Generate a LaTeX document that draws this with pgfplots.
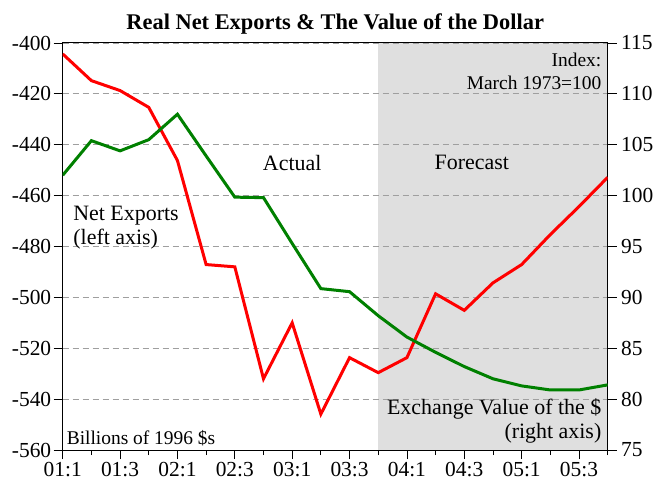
\documentclass[border=0pt]{standalone}
\usepackage{fontspec}
\setmainfont{Liberation Serif}
\usepackage{pgfplots}
\pgfplotsset{compat=1.18}

\definecolor{nxred}{RGB}{255,0,0}
\definecolor{fxgreen}{RGB}{0,128,0}
\definecolor{fcgray}{RGB}{223,223,223}

\newcommand{\lbl}{\fontsize{22}{24}\selectfont}
\newcommand{\lbs}{\fontsize{19.5}{23}\selectfont}
\newcommand{\tkl}{\fontsize{21.5}{24}\selectfont}

\begin{document}
\begin{tikzpicture}
\pgfplotsset{
  base/.style={
    width=545bp, height=407bp, scale only axis,
    xmin=0, xmax=19,
    tick align=outside,
    major tick length=9bp, minor tick length=5bp,
    tick style={black, line width=0.8pt},
    axis line style={black, line width=1pt},
    ticklabel style={font=\tkl},
    set layers=standard,
  }
}
% left axis: real net exports
\begin{axis}[base,
  ymin=-560, ymax=-400,
  ytick={-560,-540,-520,-500,-480,-460,-440,-420,-400},
  yticklabels={-560,-540,-520,-500,-480,-460,-440,-420,-400},
  ytick pos=left,
  yticklabel style={xshift=1bp},
  xtick={0,2,...,18},
  xticklabels={01:1,01:3,02:1,02:3,03:1,03:3,04:1,04:3,05:1,05:3},
  minor xtick={1,3,...,19},
  xtick pos=bottom,
  ymajorgrids,
  grid style={gray!75, dash pattern=on 6bp off 4bp, line width=0.8pt},
  title={\fontsize{22.5}{26}\selectfont\bfseries Real Net Exports \& The Value of the Dollar},
  title style={yshift=-1bp},
]
% forecast region
\addplot[fill=fcgray, draw=none, on layer=axis background] coordinates {
  (11,-560) (11,-400) (19,-400) (19,-560)} -- cycle;

\addplot[nxred, line width=3bp] coordinates {
  (0,-404.3) (1,-414.8) (2,-418.7) (3,-425.3) (4,-446.2)
  (5,-487.1) (6,-488.0) (7,-532.0) (8,-510.0) (9,-545.9)
  (10,-523.7) (11,-529.6) (12,-523.7) (13,-498.6) (14,-505.1)
  (15,-494.3) (16,-487.1) (17,-475.3) (18,-464.3) (19,-452.8)
};

\node[font=\lbl] at (axis cs:8,-447) {Actual};
\node[font=\lbl] at (axis cs:14.26,-447) {Forecast};
\node[font=\lbl, align=left, anchor=west] at (axis cs:0.25,-472.5) {Net Exports\\(left axis)};
\node[font=\lbs, anchor=base west] at (axis cs:0.02,-557.8) {Billions of 1996 \$s};
\node[font=\lbs, align=right, anchor=north east] at (axis cs:18.9,-402.5) {Index:\\March 1973=100};
\node[font=\lbl, align=right, anchor=north east] at (axis cs:18.9,-538.5) {Exchange Value of the \$\\(right axis)};
\end{axis}

% right axis: exchange value of the dollar
\begin{axis}[base,
  ymin=75, ymax=115,
  ytick={75,80,...,115},
  axis y line*=right,
  axis x line=none,
  yticklabel style={/pgf/number format/assume math mode=true, xshift=1bp},
]
\addplot[fxgreen, line width=3bp] coordinates {
  (0,102.0) (1,105.4) (2,104.4) (3,105.5) (4,108.0)
  (5,103.9) (6,99.85) (7,99.8) (8,95.3) (9,90.86)
  (10,90.56) (11,88.2) (12,86.1) (13,84.6) (14,83.2)
  (15,82.0) (16,81.3) (17,80.9) (18,80.9) (19,81.4)
};
\end{axis}
\pgfresetboundingbox
\path (-62.7bp,-34bp) rectangle (592.3bp,450bp);
\end{tikzpicture}
\end{document}
